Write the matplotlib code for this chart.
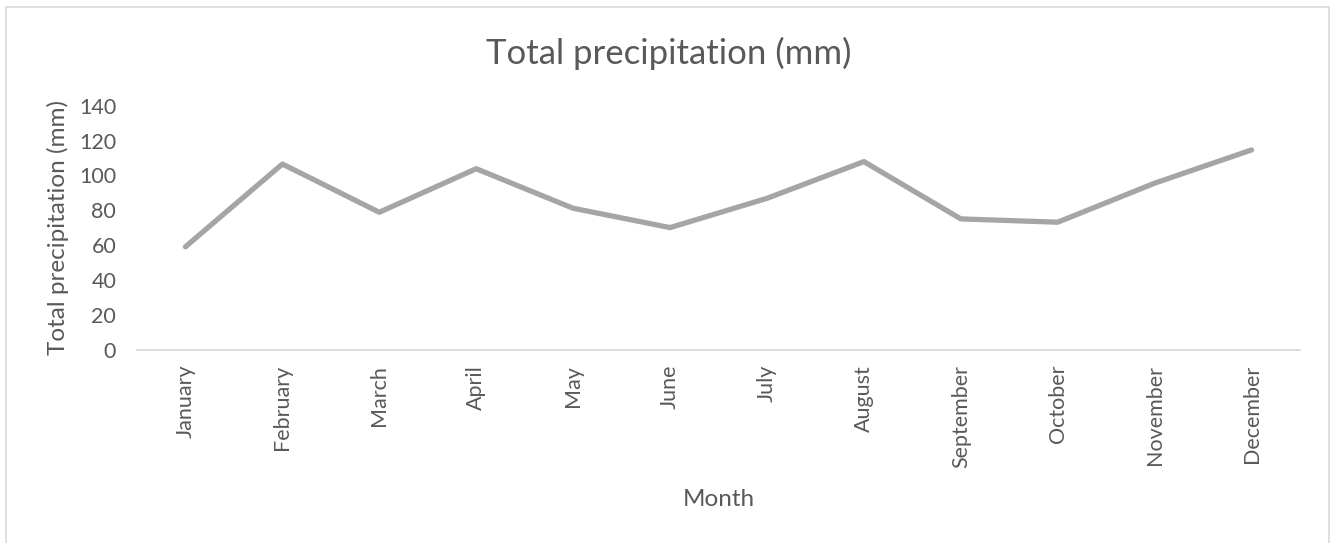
import matplotlib
matplotlib.use("Agg")
import matplotlib.pyplot as plt
from matplotlib.patches import Rectangle

plt.rcParams["font.family"] = ["Lato", "DejaVu Sans"]

TEXT_COLOR = "#595959"
LINE_COLOR = "#A5A5A5"
GRID_COLOR = "#D9D9D9"

months = [
    "January", "February", "March", "April", "May", "June",
    "July", "August", "September", "October", "November", "December",
]
precip_mm = [59.0, 106.5, 78.8, 103.8, 81.1, 70.0, 86.8, 107.9, 75.0, 73.1, 95.5, 114.6]
y_ticks = [0, 20, 40, 60, 80, 100, 120, 140]

W, H = 1337, 543
fig = plt.figure(figsize=(W / 100, H / 100), dpi=100)
ax = fig.add_axes([137 / W, 1 - 349.5 / H, (1300 - 137) / W, 243.8 / H])

x = list(range(len(months)))
ax.plot(x, precip_mm, color=LINE_COLOR, linewidth=3.8,
        solid_capstyle="round", solid_joinstyle="round", clip_on=False)

ax.set_xlim(-0.5, len(months) - 0.5)
ax.set_ylim(0, 140)
ax.set_yticks(y_ticks)
ax.set_xticks(x)
ax.set_xticklabels(months, rotation=90)

for side in ["top", "right", "left"]:
    ax.spines[side].set_visible(False)
ax.spines["bottom"].set_color(GRID_COLOR)
ax.spines["bottom"].set_linewidth(1.3)

ax.tick_params(axis="both", length=0, labelsize=15.5, labelcolor=TEXT_COLOR)
ax.tick_params(axis="y", pad=15)
ax.tick_params(axis="x", pad=11)

ax.set_ylabel("Total precipitation (mm)", fontsize=17.5, color=TEXT_COLOR, labelpad=7)

fig.text(0.5, 1 - 64 / H, "Total precipitation (mm)", ha="center", va="baseline",
         fontsize=25, color=TEXT_COLOR)
fig.text((137 + 1300) / 2 / W, 1 - 506 / H, "Month", ha="center", va="baseline",
         fontsize=17.5, color=TEXT_COLOR)

# chart area border (bottom edge falls outside the picture)
fig.patches.append(Rectangle((5.5 / W, -0.05), 1323 / W, 1.05 - 7.5 / H,
                             transform=fig.transFigure, fill=False,
                             edgecolor=GRID_COLOR, linewidth=1.2))

fig.savefig("out.png", dpi=100, facecolor="white")
